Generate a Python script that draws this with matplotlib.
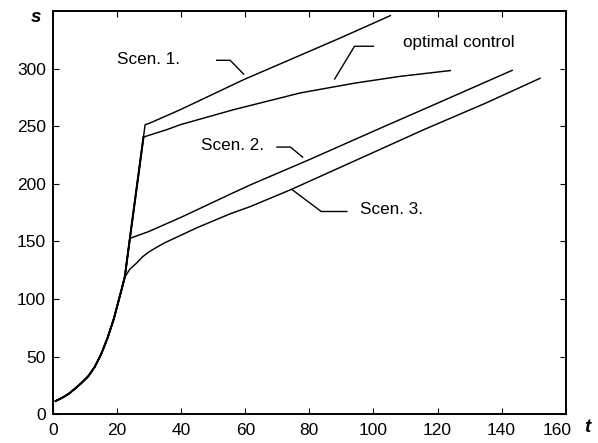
import matplotlib
matplotlib.use('Agg')
import matplotlib.pyplot as plt
import matplotlib.transforms as mtransforms

plt.rcParams['font.family'] = ['Liberation Sans', 'DejaVu Sans']

# shared start of every trajectory (up to the first branch point)
t_common = [0.8, 3, 5, 7, 9, 11, 13, 15, 17, 19, 21, 22.4]
s_common = [11.5, 14.5, 18, 22.5, 27.5, 33, 41, 52, 66, 83, 104, 119]

# steep rise after the first branch point
t_steep = [24.0, 28.24, 28.75]
s_steep = [152.7, 240.6, 251.3]

# branches
t_scen1 = [30.3, 39.7, 59.5, 74, 90, 105.3]
s_scen1 = [252.8, 264.3, 290.4, 307.8, 327, 346]

t_opt = [35.5, 39.7, 56.3, 77.2, 94.4, 108.4, 124]
s_opt = [247, 251.3, 264.3, 278.9, 287.5, 293.3, 298.3]

t_scen2 = [29.8, 40, 55.3, 61.6, 80, 101.1, 120, 143.3]
s_scen2 = [158.5, 171, 191, 199.1, 221, 247, 270, 298.5]

t_scen3 = [24, 26, 28, 30, 32.7, 35, 45, 55.3, 61.6, 74.1, 95, 115.7, 135, 152]
s_scen3 = [126, 131, 136.8, 141, 145.5, 149, 162, 174, 180.3, 194.8, 221, 247, 270, 291.6]

# labels and their leader lines
lab_text = ['Scen. 1.', 'optimal control', 'Scen. 2.', 'Scen. 3.']
lab_xy = [(20.0, 308.0), (109.2, 322.5), (46.3, 233.5), (95.7, 178.0)]
leader_t = [[51.1, 55.3, 59.5], [100.0, 94.1, 87.9], [69.9, 74.1, 77.9], [91.7, 83.7, 74.6]]
leader_s = [[307.2, 307.2, 295.2], [319.4, 319.4, 291.0], [231.9, 231.9, 223.2], [176.0, 176.0, 195.0]]

fig = plt.figure(figsize=(5.98, 4.43), dpi=100)
ax = fig.add_axes([0.0886, 0.0648, 0.8574, 0.9104])

kw = dict(color='black', lw=1.05)
# scen 3 leaves at the first branch point
ax.plot(t_common + t_scen3, s_common + s_scen3, **kw)
# scen 2 leaves part way up the steep rise
ax.plot(t_common + t_steep[:1] + t_scen2, s_common + s_steep[:1] + s_scen2, **kw)
# optimal control leaves just below the top of the steep rise
ax.plot(t_common + t_steep[:2] + t_opt, s_common + s_steep[:2] + s_opt, **kw)
# scen 1 goes to the top of the steep rise
ax.plot(t_common + t_steep + t_scen1, s_common + s_steep + s_scen1, **kw)
# the overlapping part reads heavier in the original
ax.plot(t_common + t_steep[:2], s_common + s_steep[:2], color='black', lw=1.5)

for txt, (x, y), lt, ls in zip(lab_text, lab_xy, leader_t, leader_s):
    ax.text(x, y, txt, fontsize=12.3, va='center', ha='left')
    ax.plot(lt, ls, color='black', lw=1.0)

ax.set_xlim(0, 160)
ax.set_ylim(0, 350)
ax.set_xticks(range(0, 161, 20))
ax.set_yticks(range(0, 301, 50))
ax.tick_params(direction='in', length=4, width=0.8, top=True, right=True, labelsize=12.5)
ax.tick_params(axis='x', pad=6)
ax.tick_params(axis='y', pad=5)
for sp in ax.spines.values():
    sp.set_linewidth(1.4)

# move the last x tick label left to make room for the axis name
fig.canvas.draw()
last = ax.get_xticklabels()[-1]
last.set_transform(last.get_transform() + mtransforms.ScaledTranslation(-0.09, 0, fig.dpi_scale_trans))

fig.text(36 / 598, 1 - 17 / 443, 's', fontsize=13.5, fontweight='bold', fontstyle='italic', ha='center', va='center')
fig.text(587 / 598, 1 - 428 / 443, 't', fontsize=13.5, fontweight='bold', fontstyle='italic', ha='center', va='center')

fig.savefig('out.png', dpi=100)
